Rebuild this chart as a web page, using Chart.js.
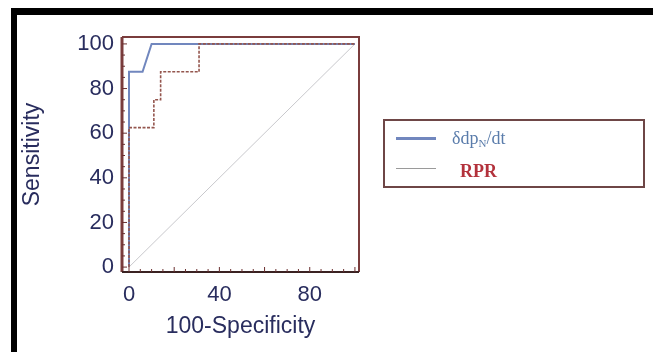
<!DOCTYPE html>
<html>
<head>
<meta charset="utf-8">
<script src="https://cdn.jsdelivr.net/npm/chart.js@4.4.1/dist/chart.umd.min.js"></script>
<style>
  html, body { margin: 0; padding: 0; background: #fff; }
  #wrap { position: relative; width: 653px; height: 352px; overflow: hidden; }
  #roc { position: absolute; left: 0; top: 0; }
  #frame { position: absolute; left: 11px; top: 8px; width: 700px; height: 400px;
           border-top: 7px solid #000; border-left: 6px solid #000; box-sizing: border-box; }
  #legend { position: absolute; left: 383px; top: 119px; width: 262px; height: 69px;
            border: 2px solid #6e4646; box-sizing: border-box; font-family: "Liberation Serif", "DejaVu Serif", serif; }
  .item { position: absolute; left: 0; height: 24px; width: 100%; }
  .swatch { position: absolute; left: 11px; width: 40px; }
  .txt { position: absolute; line-height: 24px; font-size: 18px; white-space: nowrap; }
  .txt sub { font-size: 11px; vertical-align: -3px; }
</style>
</head>
<body>
<div id="wrap">
  <canvas id="roc" width="653" height="352"></canvas>
  <div id="frame"></div>
  <div id="legend"></div>
</div>
<script>
// ROC curves (x = 100-Specificity, y = Sensitivity)
const seriesLabels = ['δdpN/dt', 'RPR'];
const dpdtX = [0, 0, 6, 10, 100];
const dpdtY = [0, 87.5, 87.5, 100, 100];
const rprX = [0, 0, 11, 11, 14, 14, 31, 31, 100];
const rprY = [0, 62.5, 62.5, 75, 75, 87.5, 87.5, 100, 100];
const diagX = [0, 100];
const diagY = [0, 100];
const xTicks = [0, 40, 80];
const yTicks = [0, 20, 40, 60, 80, 100];

const toPoints = (xs, ys) => xs.map((x, i) => ({ x: x, y: ys[i] }));

const labelColor = '#292d5e';
const frameColor = '#7a3c3c';
const sans = 'Liberation Sans, Arial, sans-serif';

// frame round the plot + small inner tick marks
const framePlugin = {
    id: 'frame',
    afterDatasetsDraw(chart) {
        const { ctx, chartArea: a, scales } = chart;
        ctx.save();
        ctx.strokeStyle = frameColor;
        ctx.lineWidth = 2;
        ctx.beginPath();
        ctx.moveTo(a.left, a.top); ctx.lineTo(a.right, a.top); ctx.lineTo(a.right, a.bottom);
        ctx.stroke();
        ctx.lineWidth = 3;
        ctx.beginPath();
        ctx.moveTo(a.left, a.top); ctx.lineTo(a.left, a.bottom);
        ctx.stroke();
        ctx.strokeStyle = '#3a2222';
        ctx.lineWidth = 2;
        ctx.beginPath();
        ctx.moveTo(a.left, a.bottom); ctx.lineTo(a.right, a.bottom);
        ctx.stroke();
        ctx.lineWidth = 1;
        ctx.strokeStyle = '#6a3030';
        for (let v = 0; v <= 100; v += 5) {
            const px = scales.x.getPixelForValue(v);
            const len = v % 20 === 0 ? 5 : 3;
            ctx.beginPath(); ctx.moveTo(px, a.bottom); ctx.lineTo(px, a.bottom - len); ctx.stroke();
            const py = scales.y.getPixelForValue(v);
            ctx.beginPath(); ctx.moveTo(a.left, py); ctx.lineTo(a.left + len, py); ctx.stroke();
        }
        ctx.restore();
    }
};

const chart = new Chart(document.getElementById('roc'), {
    type: 'scatter',
    data: {
        datasets: [
            {
                label: seriesLabels[1],
                data: toPoints(rprX, rprY),
                showLine: true,
                borderColor: '#94564e',
                borderWidth: 1.6,
                borderDash: [3, 1.5],
                pointRadius: 0,
                order: 0
            },
            {
                label: seriesLabels[0],
                data: toPoints(dpdtX, dpdtY),
                showLine: true,
                borderColor: '#7187be',
                borderWidth: 2,
                pointRadius: 0,
                order: 1
            },
            {
                label: 'ref',
                data: toPoints(diagX, diagY),
                showLine: true,
                borderColor: '#c8c8cc',
                borderWidth: 1,
                pointRadius: 0,
                order: 2
            }
        ]
    },
    options: {
        responsive: false,
        animation: false,
        layout: { padding: { left: 0, right: 294, top: 37, bottom: 0 } },
        plugins: { legend: { display: false }, tooltip: { enabled: false } },
        scales: {
            x: {
                type: 'linear',
                min: -3.1,
                max: 101.8,
                afterBuildTicks: s => { s.ticks = xTicks.map(v => ({ value: v })); },
                afterFit: s => { s.height = 80; },
                grid: { display: false, drawTicks: false },
                border: { display: false },
                ticks: { padding: 10, color: labelColor, font: { family: sans, size: 22 } },
                title: { display: true, text: '100-Specificity', color: labelColor, padding: { top: 0, bottom: 12 },
                         font: { family: sans, size: 23 } }
            },
            y: {
                type: 'linear',
                min: -2.2,
                max: 103.1,
                afterBuildTicks: s => { s.ticks = yTicks.map(v => ({ value: v })); },
                afterFit: s => { s.width = 122; },
                grid: { display: false, drawTicks: false },
                border: { display: false },
                ticks: { padding: 8, color: labelColor, font: { family: sans, size: 22 } },
                title: { display: true, text: 'Sensitivity', color: labelColor, padding: { top: 19, bottom: 0 },
                         font: { family: sans, size: 23 } }
            }
        }
    },
    plugins: [framePlugin]
});

// legend as html so the N can be a subscript
function buildLegend() {
    const box = document.getElementById('legend');
    const blue = chart.data.datasets[1], red = chart.data.datasets[0];
    box.innerHTML =
        '<div class="item" style="top:6px">' +
        '<div class="swatch" style="top:10px;height:3px;background:' + blue.borderColor + '"></div>' +
        '<div class="txt" style="left:67px;top:-1px;color:#5a7cab">' + blue.label.replace('N/', '<sub>N</sub>/') + '</div></div>' +
        '<div class="item" style="top:36px">' +
        '<div class="swatch" style="top:11px;height:1px;background:#9a9a9a"></div>' +
        '<div class="txt" style="left:75px;top:2px;color:#b3323c;font-weight:bold">' + red.label + '</div></div>';
}
buildLegend();
</script>
</body>
</html>
